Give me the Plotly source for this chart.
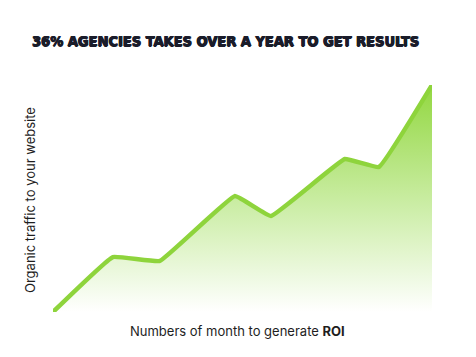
import plotly.graph_objects as go

months = [0, 1.58, 2.82, 4.80, 5.75, 7.70, 8.60, 10]
traffic = [0, 24.2, 22.5, 51.1, 42.3, 67.4, 63.9, 100]

title_text = "36% AGENCIES TAKES OVER A YEAR TO GET RESULTS"
x_title = "Numbers of month to generate <b>ROI</b>"
y_title = "Organic traffic to your website"

OFF = 8  # page body margin
W, H = 476 - OFF, 357 - OFF
px_l, px_r, px_t, px_b = 53 - OFF, 432 - OFF, 85 - OFF, 312 - OFF
ml, mr, mt, mb = px_l, W - px_r, px_t, H - px_b
pw, ph = px_r - px_l, px_b - px_t


def ax(px):
    return (px - OFF - px_l) / pw


def ay(py):
    return (px_b - (py - OFF)) / ph


fig = go.Figure()
fig.add_trace(go.Scatter(
    x=months, y=traffic, mode="lines",
    line=dict(color="#8ed43c", width=4.5, shape="spline", smoothing=0.25),
    fill="tozeroy",
    fillgradient=dict(type="vertical",
                      colorscale=[[0, "rgba(255,255,255,1)"], [0.5, "rgba(200,236,160,1)"], [1, "rgba(146,215,64,1)"]]),
    hoverinfo="skip",
))

fig.update_layout(
    width=W, height=H,
    margin=dict(l=ml, r=mr, t=mt, b=mb),
    paper_bgcolor="white", plot_bgcolor="white",
    showlegend=False,
    xaxis=dict(range=[0, 10], visible=False),
    yaxis=dict(range=[0, 100], visible=False),
    annotations=[
        dict(text="<b>" + title_text + "</b>", xref="paper", yref="paper",
             x=ax(225), y=ay(41),
             xanchor="center", yanchor="middle", showarrow=False,
             font=dict(family="DejaVu Sans Condensed", size=14.5, color="#1a1c2a",
                       shadow="0.7px 0 0 #1a1c2a, -0.5px 0 0 #1a1c2a, 0 0.5px 0 #1a1c2a")),
        dict(text=x_title, xref="paper", yref="paper",
             x=ax(237), y=ay(331),
             xanchor="center", yanchor="middle", showarrow=False,
             font=dict(family="Inter", size=13, color="#1e1e1e")),
        dict(text=y_title, xref="paper", yref="paper", textangle=-90,
             x=ax(30), y=ay(200),
             xanchor="center", yanchor="middle", showarrow=False,
             font=dict(family="Inter", size=13, color="#1e1e1e")),
    ],
)

fig.write_html("out.html")
